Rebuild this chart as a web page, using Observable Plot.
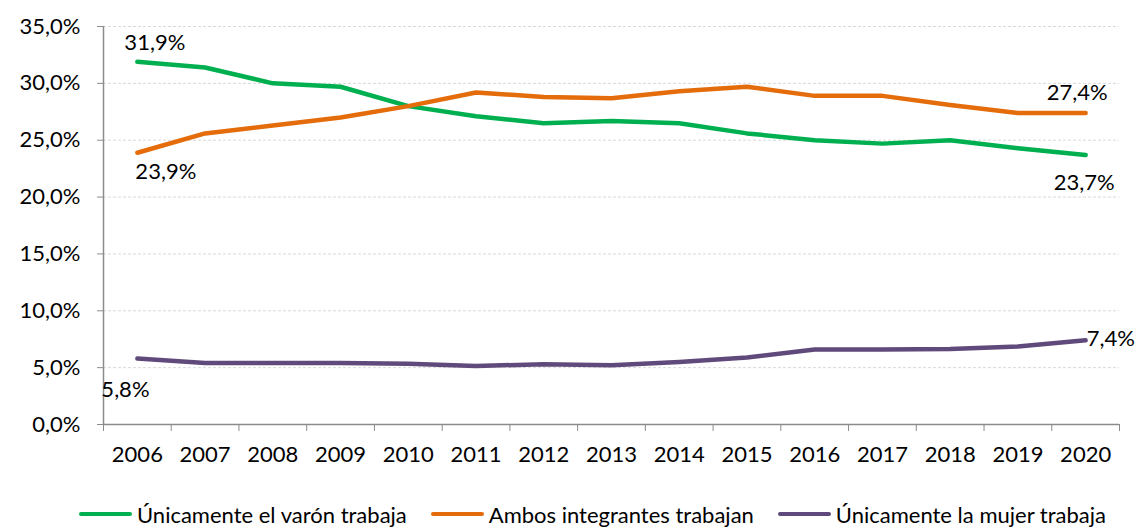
<!DOCTYPE html>
<html>
<head>
<meta charset="utf-8">
<script src="https://cdn.jsdelivr.net/npm/d3@7"></script>
<script src="https://cdn.jsdelivr.net/npm/@observablehq/plot@0.6"></script>
<style>
  body { margin: 0; background: #fff; font-family: Lato, "Open Sans", sans-serif; }
  #chart svg { display: block; }
  .legend { display: flex; align-items: center; height: 52px; padding-top: 16px; box-sizing: border-box; padding-left: 79px; font-size: 22px; color: #000; white-space: nowrap; }
  .item { display: flex; align-items: center; margin-right: 24px; flex-shrink: 0; white-space: nowrap; }
  .sw { width: 53px; height: 4px; border-radius: 2px; margin-right: 5px; flex-shrink: 0; }
</style>
</head>
<body>
<div id="chart"></div>
<div class="legend" id="legend"></div>
<script>
const years = [2006,2007,2008,2009,2010,2011,2012,2013,2014,2015,2016,2017,2018,2019,2020];
const seriesNames = ["Únicamente el varón trabaja", "Ambos integrantes trabajan", "Únicamente la mujer trabaja"];
const colors = ["#00B050", "#E46C0A", "#604A7B"];
const varon = [31.9,31.4,30.0,29.7,28.0,27.1,26.5,26.7,26.5,25.6,25.0,24.7,25.0,24.3,23.7];
const ambos = [23.9,25.6,26.3,27.0,28.0,29.2,28.8,28.7,29.3,29.7,28.9,28.9,28.1,27.4,27.4];
const mujer = [5.8,5.4,5.4,5.4,5.35,5.15,5.3,5.2,5.5,5.9,6.6,6.6,6.65,6.85,7.4];
const yTicks = [0,5,10,15,20,25,30,35];
const fmt = v => v.toFixed(1).replace(".", ",") + "%";

const valuesBySeries = [varon, ambos, mujer];
const rows = valuesBySeries.flatMap((vals, s) => vals.map((v, i) => ({year: years[i], value: v, series: seriesNames[s]})));
const boundaries = [years[0] - 0.5, ...years.map(y => y + 0.5)];

// end labels: [seriesIndex, yearIndex, dx, dy, anchor]
const labelSpecs = [
  [0, 0, -13, -19, "start"],
  [1, 0, -2, 19, "start"],
  [1, 14, 22, -20, "end"],
  [0, 14, 29, 28, "end"],
  [2, 0, -36, 31, "start"],
  [2, 14, 1, -1, "start"]
];
const labels = labelSpecs.map(([s, i, dx, dy, anchor]) => ({year: years[i], value: valuesBySeries[s][i], text: fmt(valuesBySeries[s][i]), dx, dy, anchor}));

const chart = Plot.plot({
  width: 1140,
  height: 480,
  marginLeft: 103,
  marginRight: 21,
  marginTop: 26,
  marginBottom: 56,
  style: {fontFamily: "Lato, 'Open Sans', sans-serif", fontSize: "22px", color: "#000", background: "#fff"},
  x: {type: "linear", domain: [years[0] - 0.5, years[years.length - 1] + 0.5]},
  y: {domain: [0, 35]},
  color: {domain: seriesNames, range: colors},
  marks: [
    Plot.gridY(yTicks.filter(t => t > 0), {stroke: "#d9d9d9", strokeOpacity: 1, strokeDasharray: "3,2"}),
    Plot.axisY(yTicks, {tickSize: 6, tickPadding: 17, tickFormat: d => d.toFixed(1).replace(".", ",") + "%", stroke: "#8c8c8c", fill: "#000", label: null}),
    Plot.ruleX([boundaries[0]], {stroke: "#8c8c8c", strokeWidth: 1.5}),
    Plot.ruleY([0], {stroke: "#8c8c8c", strokeWidth: 1.5}),
    Plot.axisX(boundaries, {tickSize: 7, tickFormat: () => "", stroke: "#8c8c8c", label: null}),
    Plot.axisX(years, {tickSize: 0, tickPadding: 22, tickFormat: d => String(d), fill: "#000", label: null}),
    Plot.line(rows, {x: "year", y: "value", z: "series", stroke: "series", strokeWidth: 4.5, strokeLinejoin: "round", strokeLinecap: "round"}),
    ...labels.map(l => Plot.text([l], {x: "year", y: "value", text: "text", dx: l.dx, dy: l.dy, textAnchor: l.anchor, fill: "#000", fontSize: 22}))
  ]
});
document.getElementById("chart").appendChild(chart);

const legend = document.getElementById("legend");
seriesNames.forEach((name, i) => {
  const item = document.createElement("div");
  item.className = "item";
  const sw = document.createElement("div");
  sw.className = "sw";
  sw.style.background = colors[i];
  const tx = document.createElement("span");
  tx.textContent = name;
  item.appendChild(sw);
  item.appendChild(tx);
  legend.appendChild(item);
});
</script>
</body>
</html>
